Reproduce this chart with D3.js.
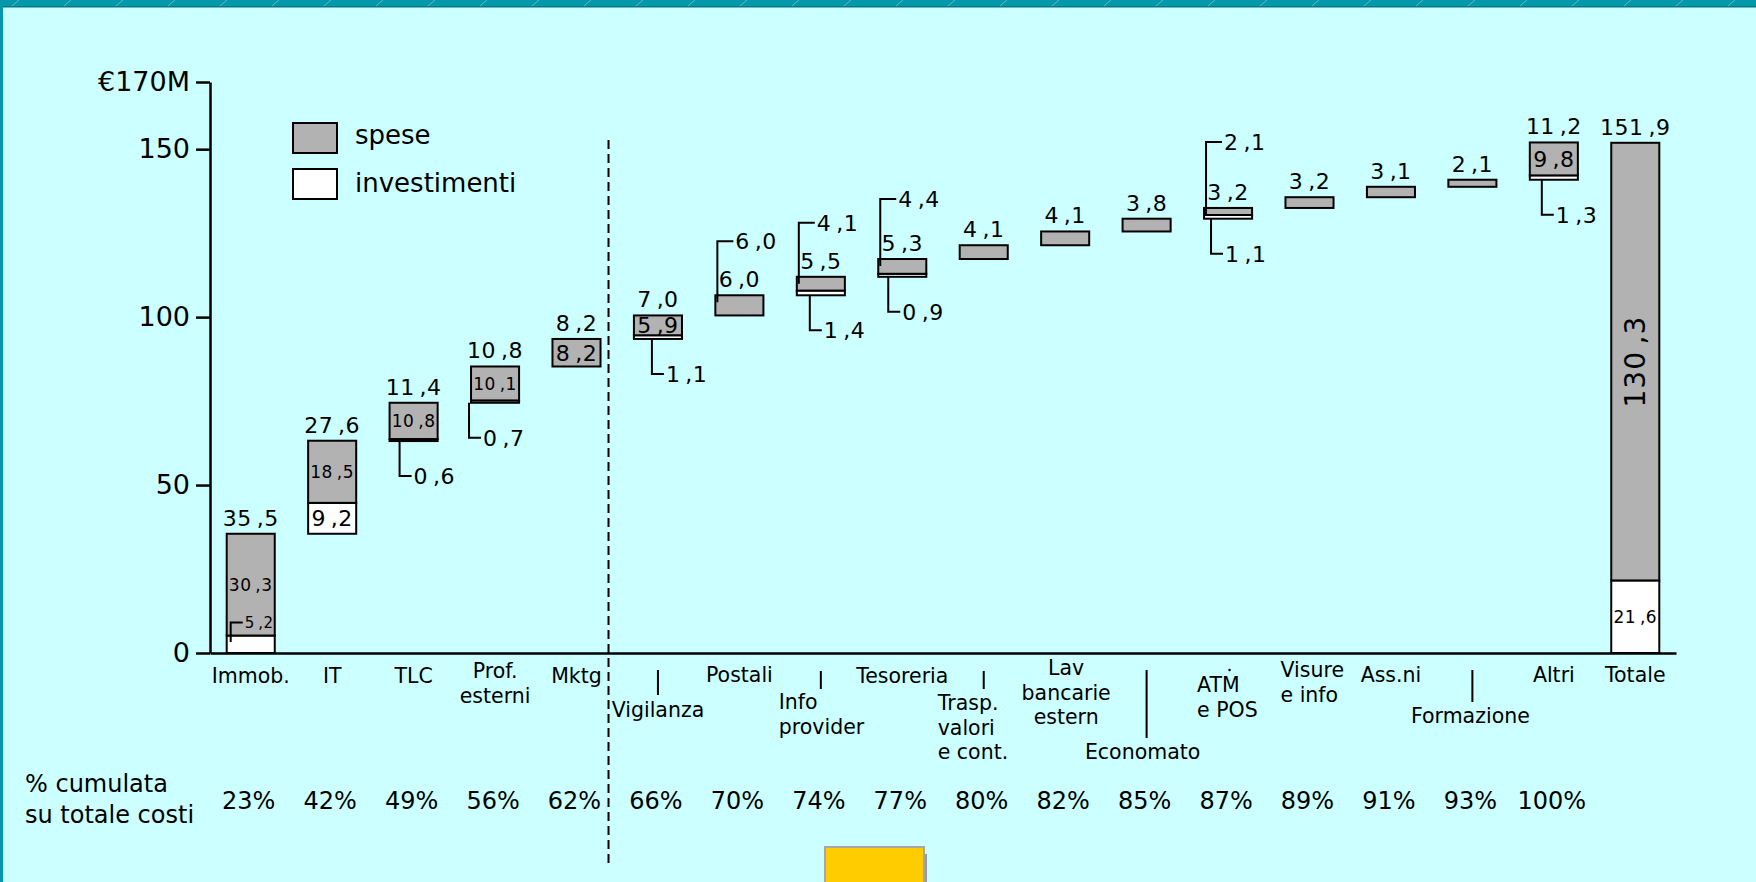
<!DOCTYPE html>
<html>
<head>
<meta charset="utf-8">
<script src="https://cdn.jsdelivr.net/npm/d3@7"></script>
<style>
  html, body { margin: 0; padding: 0; background: #CCFFFF; overflow: hidden; }
  svg { display: block; font-family: "DejaVu Sans", sans-serif; }
</style>
</head>
<body>
<svg id="chart" width="1756" height="882"></svg>
<script>
// data (milioni di euro)
var categories = ["Immob.", "IT", "TLC", "Prof.\nesterni", "Mktg", "Vigilanza", "Postali",
  "Info\nprovider", "Tesoreria", "Trasp.\nvalori\ne cont.", "Lav\nbancarie\nestern",
  "Economato", "ATM\ne POS", "Visure\ne info", "Ass.ni", "Formazione", "Altri", "Totale"];
var spese        = [30.3, 18.5, 10.8, 10.1, 8.2, 5.9, 6.0, 4.1, 4.4, 4.1, 4.1, 3.8, 2.1, 3.2, 3.1, 2.1, 9.8, 130.3];
var investimenti = [5.2, 9.2, 0.6, 0.7, 0, 1.1, 0, 1.4, 0.9, 0, 0, 0, 1.1, 0, 0, 0, 1.3, 21.6];
var totali       = [35.5, 27.6, 11.4, 10.8, 8.2, 7.0, 6.0, 5.5, 5.3, 4.1, 4.1, 3.8, 3.2, 3.2, 3.1, 2.1, 11.2, 151.9];
var cumulata     = ["23%", "42%", "49%", "56%", "62%", "66%", "70%", "74%", "77%", "80%", "82%",
  "85%", "87%", "89%", "91%", "93%", "100%"];
var yTicks = [0, 50, 100, 150, 170];
var legendNames = ["spese", "investimenti"];

var grey = "#B2B2B2";
// italian decimal comma, with the slide's loose spacing before the comma
var fmt = function(v) { return d3.format(".1f")(v).replace(".", "\u2009,"); };

var svg = d3.select("#chart");

// slide frame
svg.append("rect").attr("x", 0).attr("y", 0).attr("width", 1756).attr("height", 7).attr("fill", "#0598AA");
svg.append("rect").attr("x", 0).attr("y", 6).attr("width", 1756).attr("height", 1.5).attr("fill", "#067A80");
svg.append("rect").attr("x", 0).attr("y", 0).attr("width", 3).attr("height", 882).attr("fill", "#0598AA");
for (var k = 12; k < 1756; k += 52) {
  svg.append("line").attr("x1", k).attr("y1", 6).attr("x2", k + 7).attr("y2", 0)
    .attr("stroke", "rgba(255,255,255,0.35)").attr("stroke-width", 1);
}

var x = d3.scaleBand()
  .domain(categories)
  .range([210, 1676])
  .paddingInner(0.41)
  .paddingOuter(0.205);

var y = d3.scaleLinear()
  .domain([0, 170])
  .range([653, 82]);

// axes
svg.append("g")
  .attr("transform", "translate(210,0)")
  .call(d3.axisLeft(y).tickValues(yTicks).tickSize(14).tickSizeOuter(0).tickPadding(6)
    .tickFormat(function(d) { return d === 170 ? "€170M" : d; }))
  .call(function(g) {
    g.selectAll("path, line").attr("stroke", "#000").attr("stroke-width", 2.5);
    g.selectAll("text").attr("font-family", "DejaVu Sans").attr("font-size", 27).attr("fill", "#000");
  });

svg.append("g")
  .attr("transform", "translate(0,653)")
  .call(d3.axisBottom(x).tickSize(0).tickSizeOuter(0).tickFormat(""))
  .call(function(g) {
    g.select(".domain").attr("stroke", "#000").attr("stroke-width", 2.5);
  });

// waterfall bases
var base = [];
var run = 0;
categories.forEach(function(c, i) {
  if (i === categories.length - 1) { base.push(0); }
  else { base.push(run); run += totali[i]; }
});

var bars = categories.map(function(c, i) {
  return { cat: c, i: i, base: base[i], inv: investimenti[i], sp: spese[i], tot: totali[i] };
});

var bw = x.bandwidth();
var gBars = svg.append("g");

// white (investimenti) segment
gBars.selectAll(".inv")
  .data(bars.filter(function(d) { return d.inv > 0; }))
  .enter().append("rect")
  .attr("x", function(d) { return x(d.cat); })
  .attr("y", function(d) { return y(d.base + d.inv); })
  .attr("width", bw)
  .attr("height", function(d) { return y(d.base) - y(d.base + d.inv); })
  .attr("fill", "#fff").attr("stroke", "#000").attr("stroke-width", 2);

// grey (spese) segment
gBars.selectAll(".sp")
  .data(bars)
  .enter().append("rect")
  .attr("x", function(d) { return x(d.cat); })
  .attr("y", function(d) { return y(d.base + d.inv + d.sp); })
  .attr("width", bw)
  .attr("height", function(d) { return y(d.base + d.inv) - y(d.base + d.inv + d.sp); })
  .attr("fill", grey).attr("stroke", "#000").attr("stroke-width", 2);

// totals above bars
svg.append("g").selectAll("text")
  .data(bars)
  .enter().append("text")
  .attr("x", function(d) { return x(d.cat) + bw / 2; })
  .attr("y", function(d) { return y(d.base + Math.max(d.tot, d.inv + d.sp)) - 8; })
  .attr("text-anchor", "middle")
  .attr("font-size", 22)
  .attr("letter-spacing", 0.5)
  .text(function(d) { return fmt(d.tot); });

var upCallout = ["Postali", "Info\nprovider", "Tesoreria", "ATM\ne POS"];
var upRise = { "Postali": 54, "Info\nprovider": 54, "Tesoreria": 60, "ATM\ne POS": 66 };
var insideCallout = ["Immob."];
var downDx = { "Prof.\nesterni": -2, "Vigilanza": 18, "Info\nprovider": 13, "ATM\ne POS": 7, "Altri": 12 };
var gLab = svg.append("g");

function innerLabel(cx, cy, v) {
  var s = fmt(v);
  var small = s.length >= 5;
  gLab.append("text")
    .attr("x", cx).attr("y", cy).attr("dy", "0.36em")
    .attr("text-anchor", "middle")
    .attr("font-size", small ? 17 : 22)
    .attr("letter-spacing", 0.5)
    .text(s);
}

function callout(x0, y0, y1, len, v, size) {
  gLab.append("path")
    .attr("d", "M" + x0 + "," + y0 + "V" + y1 + "H" + (x0 + len))
    .attr("fill", "none").attr("stroke", "#000").attr("stroke-width", 2);
  gLab.append("text")
    .attr("x", x0 + len + 2).attr("y", y1).attr("dy", "0.36em")
    .attr("font-size", size)
    .attr("letter-spacing", 0.5)
    .text(fmt(v));
}

bars.forEach(function(d) {
  var left = x(d.cat), cx = left + bw / 2;
  var yb = y(d.base), yi = y(d.base + d.inv), yt = y(d.base + d.inv + d.sp);
  var hSp = yi - yt, hInv = yb - yi;

  // spese label
  if (upCallout.indexOf(d.cat) >= 0) {
    callout(left + 2, yt + 7, yt - upRise[d.cat], 16, d.sp, 22);
  } else if (hSp > 200) {
    gLab.append("text")
      .attr("transform", "translate(" + cx + "," + (yt + yi) / 2 + ") rotate(-90)")
      .attr("dy", "0.36em")
      .attr("text-anchor", "middle")
      .attr("font-size", 28)
      .attr("letter-spacing", 1)
      .text(fmt(d.sp));
  } else if (hSp >= 18) {
    innerLabel(cx, (yt + yi) / 2, d.sp);
  }

  // investimenti label
  if (d.inv > 0) {
    if (hInv >= 25) {
      innerLabel(cx, (yi + yb) / 2, d.inv);
    } else if (insideCallout.indexOf(d.cat) >= 0) {
      callout(left + 4, yb - 11, yi - 13, 12, d.inv, 15);
    } else {
      var dx = downDx[d.cat] !== undefined ? downDx[d.cat] : 10;
      callout(left + dx, yb, yb + 35, 12, d.inv, 22);
    }
  }
});

// separator between the two groups
svg.append("line")
  .attr("x1", x("Mktg") + bw + 8).attr("x2", x("Mktg") + bw + 8)
  .attr("y1", 140).attr("y2", 865)
  .attr("stroke", "#000").attr("stroke-width", 2).attr("stroke-dasharray", "9,5");

// category labels
var tickLayout = [
  { y: 683 }, { y: 683 }, { y: 683 }, { y: 678 }, { y: 683 },
  { y: 717, tick: [670, 695] },
  { y: 682 },
  { y: 709, tick: [671, 689], anchor: "start", dx: -42 },
  { y: 683 },
  { y: 710, tick: [671, 689], anchor: "start", dx: -46 },
  { y: 675, dx: 1 },
  { y: 759, tick: [670, 738], dx: -4 },
  { y: 692, anchor: "start", dx: -31, dot: true },
  { y: 677, anchor: "start", dx: -29 },
  { y: 682 },
  { y: 723, tick: [670, 702], dx: -2 },
  { y: 682 },
  { y: 682 }
];

var gTicks = svg.append("g").attr("font-size", 20.5);
categories.forEach(function(c, i) {
  var L = tickLayout[i];
  var cx = x(c) + bw / 2;
  var t = gTicks.append("text")
    .attr("text-anchor", L.anchor || "middle");
  c.split("\n").forEach(function(line, j) {
    t.append("tspan")
      .attr("x", cx + (L.dx || 0))
      .attr("y", L.y + j * 24.7)
      .text(line);
  });
  if (L.tick) {
    gTicks.append("line")
      .attr("x1", cx).attr("x2", cx)
      .attr("y1", L.tick[0]).attr("y2", L.tick[1])
      .attr("stroke", "#000").attr("stroke-width", 2);
  }
  if (L.dot) {
    gTicks.append("circle").attr("cx", cx + 1.5).attr("cy", 670).attr("r", 1.3).attr("fill", "#000");
  }
});

// cumulated share row
var gPct = svg.append("g").attr("font-size", 24);
gPct.append("text").attr("x", 25).attr("y", 792).text("% cumulata");
gPct.append("text").attr("x", 25).attr("y", 823).text("su totale costi");
gPct.selectAll(".pct")
  .data(cumulata)
  .enter().append("text")
  .attr("x", function(d, i) { return x(categories[i]) + bw / 2 - 2; })
  .attr("y", 809)
  .attr("text-anchor", "middle")
  .text(function(d) { return d; });

// legend
var legend = svg.append("g");
legendNames.forEach(function(name, i) {
  legend.append("rect")
    .attr("x", 293).attr("y", 123 + i * 46)
    .attr("width", 44).attr("height", 30)
    .attr("fill", i === 0 ? grey : "#fff")
    .attr("stroke", "#000").attr("stroke-width", 2);
  legend.append("text")
    .attr("x", 355).attr("y", 143.5 + i * 48.5)
    .attr("font-size", 26)
    .text(name);
});

// yellow box at the bottom of the slide
svg.append("rect").attr("x", 924).attr("y", 854).attr("width", 3).attr("height", 30).attr("fill", "#999");
svg.append("rect").attr("x", 825).attr("y", 847).attr("width", 99).attr("height", 40)
  .attr("fill", "#FFCC00").attr("stroke", "#A6A6A6").attr("stroke-width", 2);
</script>
</body>
</html>
